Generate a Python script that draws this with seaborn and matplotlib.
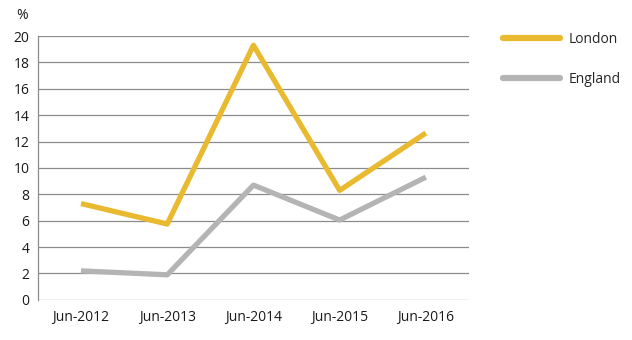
import matplotlib
matplotlib.use("Agg")
import matplotlib.pyplot as plt
import seaborn as sns
import pandas as pd

# data
periods = ["Jun-2012", "Jun-2013", "Jun-2014", "Jun-2015", "Jun-2016"]
london = [7.3, 5.75, 19.3, 8.3, 12.65]
england = [2.2, 1.9, 8.7, 6.05, 9.3]

df = pd.DataFrame({
    "period": periods * 2,
    "value": london + england,
    "area": ["London"] * len(periods) + ["England"] * len(periods),
})

sns.set_style("white")
plt.rcParams["font.family"] = ["Open Sans", "DejaVu Sans"]

fig = plt.figure(figsize=(6.32, 3.4), dpi=100)
ax = fig.add_axes([0.060, 0.118, 0.682, 0.776])

sns.lineplot(data=df, x="period", y="value", hue="area", sort=False,
             palette={"London": "#E9B92F", "England": "#B4B4B4"},
             linewidth=3.8, ax=ax, solid_capstyle="butt")

ax.set_xlim(-0.5, 4.5)
ax.set_ylim(0, 20)
ax.set_yticks(range(0, 21, 2))
ax.yaxis.grid(True, color="#8C8C8C", linewidth=0.9)
ax.set_axisbelow(True)
for side in ["top", "right", "bottom"]:
    ax.spines[side].set_visible(False)
ax.spines["left"].set_color("#8C8C8C")
ax.spines["left"].set_linewidth(0.9)
ax.tick_params(axis="both", length=0, labelsize=10, colors="#1a1a1a")
ax.tick_params(axis="y", pad=6)
ax.tick_params(axis="x", pad=7)
ax.set_xlabel("")
ax.set_ylabel("")
ax.text(-0.037, 1.05, "%", transform=ax.transAxes, fontsize=10,
        ha="center", va="bottom", color="#1a1a1a")

leg = ax.legend(loc="upper left", bbox_to_anchor=(1.05, 1.062), frameon=False,
                fontsize=10, handlelength=4.1, handletextpad=0.6,
                labelspacing=1.78)
for line in leg.get_lines():
    line.set_linewidth(4.5)
    line.set_solid_capstyle("round")

fig.savefig("out.png", dpi=100)
